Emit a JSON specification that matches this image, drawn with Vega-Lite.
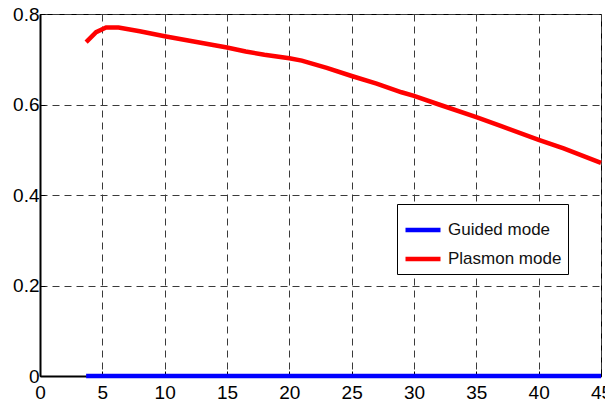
{
  "$schema": "https://vega.github.io/schema/vega-lite/v6.json",
  "width": 561,
  "height": 362,
  "autosize": {"type": "none"},
  "padding": {"left": 40, "top": 14, "right": 4, "bottom": 33},
  "background": "white",
  "config": {
    "font": "Liberation Sans, sans-serif",
    "view": {"stroke": "#000000", "strokeWidth": 1},
    "axis": {
      "labelFont": "Liberation Sans, sans-serif",
      "labelFontSize": 19,
      "labelColor": "#000000",
      "domainColor": "#000000",
      "domainWidth": 2,
      "gridColor": "#3a3a3a",
      "gridDash": [7, 5],
      "gridWidth": 1,
      "gridOpacity": 1,
      "tickColor": "#000000",
      "tickSize": -5,
      "labelFlush": false,
      "labelOverlap": false,
      "title": null
    }
  },
  "data": {
    "values": [
      {"x": 3.7, "y": 0.738, "mode": "Plasmon mode"},
      {"x": 4.5, "y": 0.760, "mode": "Plasmon mode"},
      {"x": 5.3, "y": 0.770, "mode": "Plasmon mode"},
      {"x": 6.3, "y": 0.770, "mode": "Plasmon mode"},
      {"x": 8, "y": 0.762, "mode": "Plasmon mode"},
      {"x": 10, "y": 0.751, "mode": "Plasmon mode"},
      {"x": 12, "y": 0.741, "mode": "Plasmon mode"},
      {"x": 14, "y": 0.731, "mode": "Plasmon mode"},
      {"x": 15, "y": 0.726, "mode": "Plasmon mode"},
      {"x": 16.5, "y": 0.717, "mode": "Plasmon mode"},
      {"x": 18, "y": 0.710, "mode": "Plasmon mode"},
      {"x": 20, "y": 0.702, "mode": "Plasmon mode"},
      {"x": 21, "y": 0.697, "mode": "Plasmon mode"},
      {"x": 23, "y": 0.681, "mode": "Plasmon mode"},
      {"x": 25, "y": 0.663, "mode": "Plasmon mode"},
      {"x": 27, "y": 0.646, "mode": "Plasmon mode"},
      {"x": 29, "y": 0.627, "mode": "Plasmon mode"},
      {"x": 30, "y": 0.619, "mode": "Plasmon mode"},
      {"x": 32, "y": 0.600, "mode": "Plasmon mode"},
      {"x": 35, "y": 0.572, "mode": "Plasmon mode"},
      {"x": 37, "y": 0.552, "mode": "Plasmon mode"},
      {"x": 40, "y": 0.522, "mode": "Plasmon mode"},
      {"x": 42, "y": 0.503, "mode": "Plasmon mode"},
      {"x": 45, "y": 0.471, "mode": "Plasmon mode"},
      {"x": 3.7, "y": 0, "mode": "Guided mode"},
      {"x": 45, "y": 0, "mode": "Guided mode"}
    ]
  },
  "mark": {"type": "line", "strokeWidth": 4.5, "clip": false},
  "encoding": {
    "x": {
      "field": "x",
      "type": "quantitative",
      "scale": {"domain": [0, 45], "nice": false, "zero": false},
      "axis": {"values": [0, 5, 10, 15, 20, 25, 30, 35, 40, 45], "labelPadding": 12}
    },
    "y": {
      "field": "y",
      "type": "quantitative",
      "scale": {"domain": [0, 0.8], "nice": false},
      "axis": {"values": [0, 0.2, 0.4, 0.6, 0.8], "format": "~g", "labelPadding": 6}
    },
    "color": {
      "field": "mode",
      "type": "nominal",
      "scale": {"domain": ["Guided mode", "Plasmon mode"], "range": ["#0000ff", "#ff0000"]},
      "legend": {
        "title": null,
        "orient": "none",
        "legendX": 357,
        "legendY": 190,
        "fillColor": "white",
        "strokeColor": "#000000",
        "padding": 6,
        "symbolType": "stroke",
        "symbolSize": 1225,
        "symbolStrokeWidth": 4.5,
        "labelFontSize": 17,
        "labelColor": "#111111",
        "labelFont": "Liberation Sans, sans-serif",
        "rowPadding": 0,
        "labelOffset": 5
      }
    },
    "order": {"field": "x", "type": "quantitative"}
  }
}
